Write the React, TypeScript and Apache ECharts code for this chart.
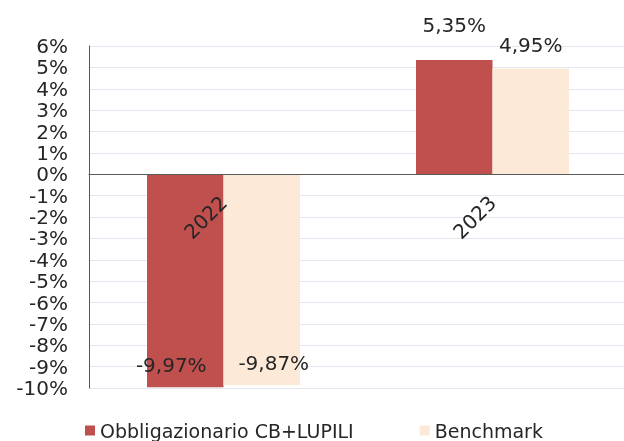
import React, { useEffect, useRef } from "react";
import * as echarts from "echarts";

const categories = ["2022", "2023"];
const seriesNames = ["Obbligazionario CB+LUPILI", "Benchmark"];
const fundValues = [-9.97, 5.35];
const benchmarkValues = [-9.87, 4.95];
const yMin = -10;
const yMax = 6;

const FONT = "DejaVu Sans";
const TEXT = "#262626";
const fmt = (v: number) => v.toFixed(2).replace(".", ",") + "%";

const GRID_TOP = 46;
const GRID_H = 342;

export default function App() {
  const ref = useRef<HTMLDivElement>(null);
  useEffect(() => {
    if (!ref.current) return;
    const chart = echarts.init(ref.current, undefined, { renderer: "svg" });
    const zeroOffset = -(GRID_H * (0 - yMin)) / (yMax - yMin);
    const mk = (vals: number[], posDist: number, offX: number) =>
      vals.map((v) => ({
        value: v,
        label:
          v >= 0
            ? { position: "top", distance: posDist }
            : { position: "insideBottom", distance: 12, offset: [offX, 0] },
      }));
    chart.setOption({
      animation: false,
      textStyle: { fontFamily: FONT },
      grid: {
        left: 89,
        top: GRID_TOP,
        width: 538,
        height: GRID_H,
        containLabel: false,
        outerBoundsMode: "none",
      },
      legend: {
        data: seriesNames,
        left: 85,
        top: 421,
        padding: 0,
        itemGap: 66,
        itemWidth: 10,
        itemHeight: 10,
        icon: "rect",
        textStyle: { fontFamily: FONT, fontSize: 19, color: TEXT },
      },
      xAxis: {
        type: "category",
        data: categories,
        position: "bottom",
        offset: zeroOffset,
        z: 5,
        axisLine: { onZero: false, lineStyle: { color: "#595959", width: 1 } },
        axisTick: { show: false },
        axisLabel: {
          rotate: 45,
          margin: 25,
          fontFamily: FONT,
          fontSize: 20,
          color: TEXT,
        },
        splitLine: { show: false },
      },
      yAxis: {
        type: "value",
        min: yMin,
        max: yMax,
        interval: 1,
        axisLine: { show: true, lineStyle: { color: "#595959", width: 1 } },
        axisTick: { show: false },
        axisLabel: {
          margin: 21,
          fontFamily: FONT,
          fontSize: 20,
          lineHeight: 20,
          color: TEXT,
          showMinLabel: true,
          showMaxLabel: true,
          hideOverlap: false,
          formatter: (v: number) => `${v}%`,
        },
        splitLine: { show: true, lineStyle: { color: "#e3e8f0", width: 1 } },
      },
      series: [
        {
          name: seriesNames[0],
          type: "bar",
          data: mk(fundValues, 25, -14),
          barWidth: 76.5,
          barGap: "0%",
          itemStyle: { color: "#c0504d" },
          label: {
            show: true,
            fontFamily: FONT,
            fontSize: 20,
            color: TEXT,
            formatter: (p: any) => fmt(p.value),
          },
        },
        {
          name: seriesNames[1],
          type: "bar",
          data: mk(benchmarkValues, 13, 12),
          barWidth: 76.5,
          barGap: "0%",
          itemStyle: { color: "#fce9d8" },
          label: {
            show: true,
            fontFamily: FONT,
            fontSize: 20,
            color: TEXT,
            formatter: (p: any) => fmt(p.value),
          },
        },
      ],
    });
    return () => chart.dispose();
  }, []);
  return (
    <div
      ref={ref}
      style={{ position: "fixed", left: 0, top: 0, width: 624, height: 441 }}
    />
  );
}
